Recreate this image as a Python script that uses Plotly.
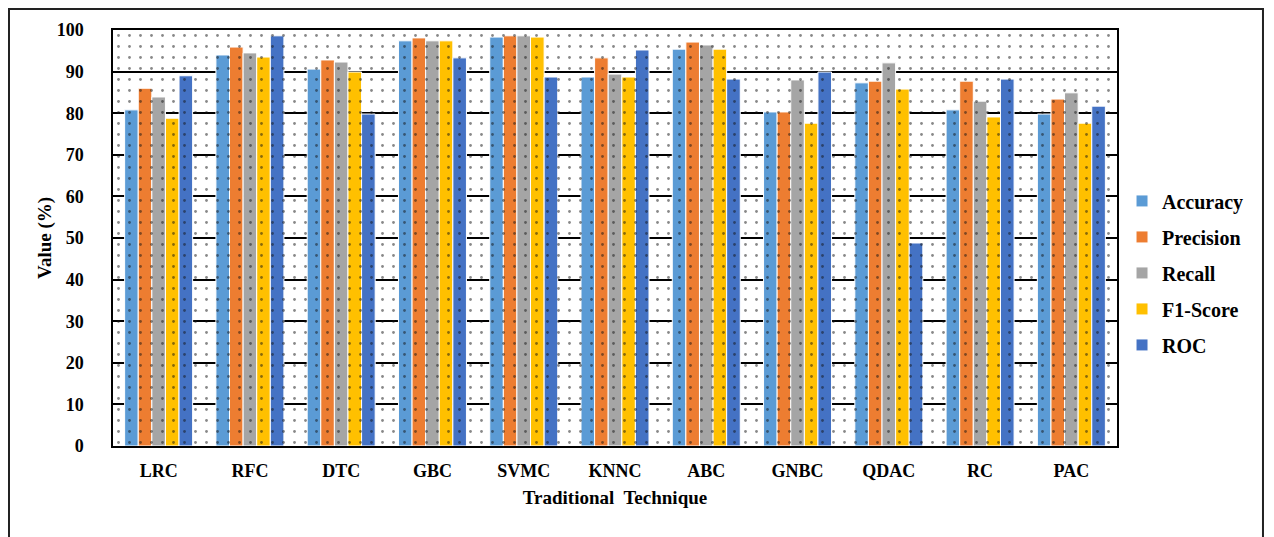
import plotly.graph_objects as go

categories = ["LRC", "RFC", "DTC", "GBC", "SVMC", "KNNC", "ABC", "GNBC", "QDAC", "RC", "PAC"]
accuracy = [80.8, 94.0, 90.6, 97.4, 98.3, 88.7, 95.4, 80.3, 87.3, 80.8, 79.8]
precision = [86.0, 95.9, 92.8, 98.1, 98.6, 93.3, 97.1, 80.3, 87.7, 87.7, 83.4]
recall = [83.9, 94.5, 92.3, 97.4, 98.6, 89.4, 96.4, 88.0, 92.1, 82.9, 84.9]
f1_score = [78.8, 93.5, 89.9, 97.4, 98.3, 88.7, 95.4, 77.6, 85.8, 79.1, 77.6]
roc = [89.0, 98.6, 79.8, 93.3, 88.7, 95.2, 88.2, 89.9, 48.8, 88.2, 81.7]

series_names = ["Accuracy", "Precision", "Recall", "F1-Score", "ROC"]
series_values = [accuracy, precision, recall, f1_score, roc]
colors = ["#5B9BD5", "#ED7D31", "#A5A5A5", "#FFC000", "#4472C4"]

FONT = "Liberation Serif"

fig = go.Figure()

# dotted background pattern (decoration) on base axes
fig.add_trace(go.Bar(
    x=[0.5], y=[100], width=[1], xaxis="x2", yaxis="y",
    marker=dict(color="rgba(0,0,0,0)", line=dict(width=0),
                pattern=dict(shape=".", fgcolor="#111111", bgcolor="rgba(0,0,0,0)",
                             size=11, solidity=0.05, fillmode="overlay")),
    showlegend=False, hoverinfo="skip",
))

for name, vals, col in zip(series_names, series_values, colors):
    fig.add_trace(go.Bar(
        x=categories, y=vals, name=name, xaxis="x", yaxis="y",
        marker=dict(color=col, line=dict(color="white", width=1)),
        legendgroup=name,
    ))

fig.update_layout(
    width=1266, height=529,
    margin=dict(l=105, r=157, t=22, b=91, autoexpand=False),
    paper_bgcolor="white", plot_bgcolor="white",
    barmode="group", bargap=0.255, bargroupgap=0.0,
    font=dict(family=FONT, color="black"),
    xaxis=dict(
        type="category", range=[-0.5, 10.5], domain=[0, 1], automargin=False,
        showline=True, mirror=True, linecolor="black", linewidth=1.5,
        showgrid=False, ticks="", ticklabelstandoff=8,
        tickfont=dict(family=FONT, size=18, color="black", weight="bold"),
        title=dict(text="Traditional  Technique", standoff=10,
                   font=dict(family=FONT, size=19, color="black", weight="bold")),
        layer="above traces",
    ),
    xaxis2=dict(
        range=[0, 1], overlaying="x", visible=False, domain=[0, 1],
    ),
    yaxis=dict(
        range=[0, 100], dtick=10, automargin=False,
        showline=True, mirror=True, linecolor="black", linewidth=1.5,
        showgrid=True, gridcolor="black", gridwidth=2,
        zeroline=False, ticks="", ticklabelstandoff=24,
        tickfont=dict(family=FONT, size=18, color="black", weight="bold"),
        title=dict(text="Value (%)", standoff=0,
                   font=dict(family=FONT, size=19, color="black", weight="bold")),
    ),
    legend=dict(
        x=1.005, y=0.416, xanchor="left", yanchor="middle",
        font=dict(family=FONT, size=20, color="black", weight="bold"),
        tracegroupgap=7, itemwidth=30, bgcolor="rgba(0,0,0,0)",
    ),
    shapes=[dict(type="rect", xref="paper", yref="paper",
                 x0=-0.1036, x1=1.1454, y0=-0.24, y1=1.0505,
                 line=dict(color="#222222", width=2), fillcolor="rgba(0,0,0,0)")],
)

fig.write_html("out.html")
